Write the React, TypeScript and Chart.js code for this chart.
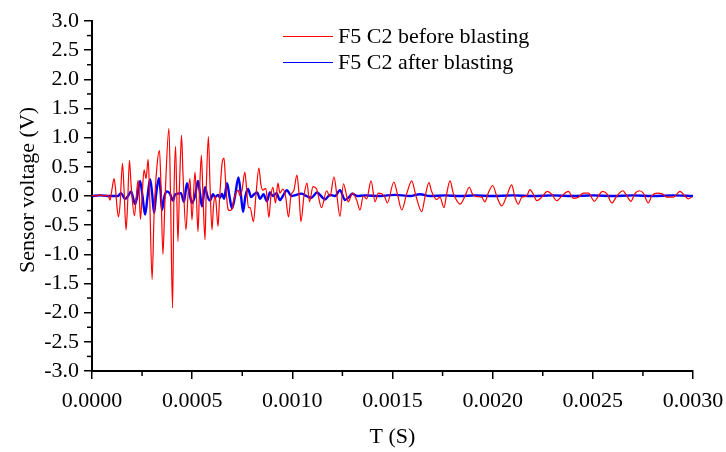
import React, { useEffect, useRef } from "react";
import { Chart, registerables } from "chart.js";

Chart.register(...registerables);

// [time in microseconds, sensor voltage in V]
const beforeBlasting: [number, number][] = [
  [0, 0.01], [20, 0.0], [40, 0.02], [60, 0.0], [80, 0.01], [90, -0.07], [100, 0.12], [110, 0.3],
  [117, 0.14], [125, -0.2], [132, -0.36], [140, -0.15], [152, 0.56], [160, 0.1], [170, -0.58],
  [177, -0.2], [187, 0.61], [195, 0.2], [212, -0.34], [220, -0.05], [230, 0.27], [235, 0.1],
  [242, -0.4], [250, 0.0], [260, 0.45], [270, 0.3], [280, 0.63], [287, 0.1], [300, -1.43],
  [310, -0.3], [324, 0.5], [337, 0.78], [344, 0.2], [354, -1.0], [364, -0.1], [384, 1.16],
  [392, 0.0], [402, -1.92], [409, 0.0], [417, 0.85], [422, 0.2], [429, -0.78], [437, 0.2],
  [447, 1.04], [454, 0.4], [469, -0.58], [479, 0.0], [489, 0.3], [499, -0.41], [514, 0.41],
  [521, 0.0], [529, -0.61], [536, 0.0], [546, 0.7], [554, 0.0], [564, -0.75], [571, 0.2],
  [581, 1.02], [589, 0.2], [599, -0.58], [606, -0.2], [614, 0.0], [619, -0.1], [629, -0.52],
  [636, -0.1], [649, 0.55], [659, 0.65], [666, 0.3], [674, -0.1], [681, -0.24], [689, -0.25],
  [699, -0.22], [709, -0.05], [719, 0.05], [729, 0.1], [739, 0.0], [749, 0.1], [763, 0.41],
  [771, 0.15], [781, -0.2], [789, -0.2], [806, -0.44], [818, 0.0], [833, 0.48], [843, 0.2],
  [853, 0.1], [868, 0.13], [883, -0.37], [893, 0.0], [903, 0.15], [916, -0.12], [928, 0.22],
  [938, 0.05], [953, 0.12], [966, 0.0], [981, -0.36], [993, 0.0], [1008, 0.1], [1023, 0.36],
  [1033, 0.05], [1043, -0.44], [1058, 0.0], [1073, 0.22], [1086, -0.1], [1103, 0.16],
  [1121, 0.12], [1146, -0.2], [1171, 0.09], [1188, -0.01], [1208, 0.33], [1221, 0.05],
  [1238, -0.35], [1255, 0.21], [1271, 0.0], [1279, -0.1], [1301, 0.05], [1321, -0.07],
  [1338, -0.24], [1354, 0.0], [1371, -0.05], [1393, 0.26], [1413, -0.1], [1429, 0.05],
  [1446, 0.04], [1463, -0.03], [1474, -0.12], [1507, 0.24], [1524, 0.04], [1546, -0.24],
  [1571, 0.04], [1596, 0.26], [1617, 0.0], [1646, -0.27], [1662, -0.02], [1682, 0.23],
  [1695, 0.08], [1720, -0.06], [1737, -0.02], [1757, -0.2], [1770, 0.03], [1787, 0.26],
  [1804, 0.04], [1821, -0.08], [1837, -0.14], [1862, 0.0], [1883, 0.15], [1900, 0.03],
  [1920, -0.01], [1945, -0.02], [1961, -0.1], [1978, 0.05], [2000, 0.18], [2020, 0.0],
  [2045, -0.17], [2070, 0.0], [2095, 0.19], [2111, -0.02], [2128, -0.14], [2145, -0.02],
  [2170, 0.0], [2186, 0.11], [2203, 0.03], [2220, -0.08], [2245, -0.02], [2273, 0.08],
  [2295, 0.03], [2320, -0.08], [2345, 0.0], [2378, 0.08], [2403, -0.04], [2428, -0.02],
  [2453, 0.05], [2478, 0.05], [2508, -0.09], [2528, 0.0], [2548, 0.08], [2570, 0.04],
  [2595, -0.12], [2620, 0.0], [2650, 0.09], [2670, 0.0], [2690, -0.09], [2710, 0.04],
  [2732, 0.09], [2752, 0.05], [2777, -0.12], [2794, 0.0], [2819, 0.05], [2844, 0.04],
  [2869, -0.02], [2902, -0.02], [2935, 0.08], [2960, 0.0], [2976, -0.05], [2993, -0.02],
];

const afterBlasting: [number, number][] = [
  [0, 0], [40, 0.01], [90, 0], [130, 0], [145, 0.05], [165, -0.05], [180, 0], [195, 0.08],
  [215, -0.14], [225, -0.02], [240, 0.26], [252, 0], [265, -0.32], [277, -0.02], [290, 0.29],
  [300, 0.05], [310, -0.29], [319, 0], [334, 0.31], [342, 0.1], [349, -0.24], [362, 0],
  [374, 0.08], [389, 0.04], [404, -0.08], [414, 0.02], [429, 0.04], [444, 0.05], [459, -0.1],
  [474, 0.22], [489, 0], [499, -0.12], [514, 0], [529, 0.26], [539, 0.05], [549, -0.18],
  [564, 0.15], [576, 0], [589, -0.08], [604, 0.03], [614, -0.02], [629, 0.02], [639, -0.03],
  [649, 0.04], [659, -0.05], [674, 0.22], [686, 0], [699, -0.21], [714, 0], [731, 0.32],
  [744, 0], [754, -0.27], [766, 0], [779, 0.12], [794, -0.02], [809, 0.03], [824, 0.06],
  [839, -0.05], [856, 0.03], [873, -0.09], [888, 0.06], [903, 0], [921, 0.05], [938, -0.07],
  [953, 0], [973, 0.1], [995, 0], [1020, 0.02], [1045, 0.04], [1070, 0], [1095, -0.03],
  [1123, 0.06], [1143, 0], [1163, -0.06], [1188, 0.02], [1213, 0], [1238, 0.1], [1263, -0.07],
  [1288, 0], [1298, 0.04], [1323, 0], [1362, 0.01], [1437, 0], [1512, 0.02], [1587, 0],
  [1637, 0.03], [1687, 0], [1762, 0.01], [1837, 0], [1912, 0.01], [2000, 0], [2100, 0.01],
  [2200, 0], [2300, 0.01], [2400, 0], [2500, 0.01], [2600, 0], [2700, 0.01], [2800, 0],
  [2900, 0.01], [3000, 0],
];

const seriesLabels = ["F5 C2 before blasting", "F5 C2 after blasting"];
const seriesColors = ["#ff0000", "#0000ff"];
const xTickValues = [0, 0.0005, 0.001, 0.0015, 0.002, 0.0025, 0.003];
const yTickValues = [-3, -2.5, -2, -1.5, -1, -0.5, 0, 0.5, 1, 1.5, 2, 2.5, 3];
const xTitle = "T (S)";
const yTitle = "Sensor voltage (V)";

const FONT = "'Liberation Serif', 'Times New Roman', serif";
const W = 726;
const H = 452;

const decorPlugin = {
  id: "decor",
  afterDraw(chart: any) {
    const ctx: CanvasRenderingContext2D = chart.ctx;
    const xs = chart.scales.x;
    const ys = chart.scales.y;
    const area = chart.chartArea;
    ctx.save();
    ctx.strokeStyle = "#000";
    ctx.lineWidth = 1.5;
    // minor ticks
    for (let i = 0; i < xTickValues.length - 1; i++) {
      const v = (xTickValues[i] + xTickValues[i + 1]) / 2;
      const px = xs.getPixelForValue(v);
      ctx.beginPath();
      ctx.moveTo(px, area.bottom);
      ctx.lineTo(px, area.bottom + 5);
      ctx.stroke();
    }
    for (let i = 0; i < yTickValues.length - 1; i++) {
      const v = (yTickValues[i] + yTickValues[i + 1]) / 2;
      const py = ys.getPixelForValue(v);
      ctx.beginPath();
      ctx.moveTo(area.left, py);
      ctx.lineTo(area.left - 5, py);
      ctx.stroke();
    }
    // legend
    ctx.font = `22px ${FONT}`;
    ctx.textBaseline = "middle";
    ctx.textAlign = "left";
    ctx.fillStyle = "#000";
    chart.data.datasets.forEach((ds: any, i: number) => {
      const y = 36 + i * 26;
      ctx.strokeStyle = ds.borderColor;
      ctx.lineWidth = 1;
      ctx.beginPath();
      ctx.moveTo(283, y + 0.5);
      ctx.lineTo(333, y + 0.5);
      ctx.stroke();
      ctx.fillText(ds.label, 338, y + 1);
    });
    // axis titles
    ctx.textAlign = "center";
    ctx.fillText(xTitle, (area.left + area.right) / 2, 437);
    ctx.translate(28, 190);
    ctx.rotate(-Math.PI / 2);
    ctx.fillText(yTitle, 0, 0);
    ctx.restore();
  },
};

export default function App() {
  const canvasRef = useRef<HTMLCanvasElement | null>(null);

  useEffect(() => {
    document.body.style.margin = "0";
    const canvas = canvasRef.current;
    if (!canvas) return;
    const toPoints = (arr: [number, number][]) => arr.map(([t, v]) => ({ x: t * 1e-6, y: v }));
    const chart = new Chart(canvas, {
      type: "line",
      data: {
        datasets: [
          {
            label: seriesLabels[0],
            data: toPoints(beforeBlasting),
            borderColor: seriesColors[0],
            backgroundColor: seriesColors[0],
            borderWidth: 1.2,
            pointRadius: 0,
            cubicInterpolationMode: "monotone",
          },
          {
            label: seriesLabels[1],
            data: toPoints(afterBlasting),
            borderColor: seriesColors[1],
            backgroundColor: seriesColors[1],
            borderWidth: 2.4,
            pointRadius: 0,
            cubicInterpolationMode: "monotone",
          },
        ],
      },
      options: {
        animation: false,
        responsive: false,
        devicePixelRatio: 1,
        layout: { padding: { left: 0, top: 21, right: 33, bottom: 0 } },
        plugins: { legend: { display: false }, tooltip: { enabled: false } },
        events: [],
        scales: {
          x: {
            type: "linear",
            min: 0,
            max: 0.003,
            afterFit: (s: any) => { s.height = H - 371; s.paddingLeft = 0; s.paddingRight = 0; },
            afterBuildTicks: (s: any) => { s.ticks = xTickValues.map((v) => ({ value: v })); },
            ticks: {
              callback: (v: any) => Number(v).toFixed(4),
              font: { family: FONT, size: 22 },
              color: "#000",
              padding: 9,
              maxRotation: 0,
              autoSkip: false,
            },
            grid: { display: true, drawOnChartArea: false, drawTicks: true, tickLength: 8, color: "#000", lineWidth: 1.5 },
            border: { display: true, color: "#000", width: 2 },
          },
          y: {
            type: "linear",
            min: -3,
            max: 3,
            afterFit: (s: any) => { s.width = 92; s.paddingTop = 0; s.paddingBottom = 0; },
            afterBuildTicks: (s: any) => { s.ticks = yTickValues.map((v) => ({ value: v })); },
            ticks: {
              callback: (v: any) => Number(v).toFixed(1),
              font: { family: FONT, size: 22 },
              color: "#000",
              padding: 5,
              autoSkip: false,
            },
            grid: { display: true, drawOnChartArea: false, drawTicks: true, tickLength: 8, color: "#000", lineWidth: 1.5 },
            border: { display: true, color: "#000", width: 2 },
          },
        },
      },
      plugins: [decorPlugin],
    });
    return () => chart.destroy();
  }, []);

  return (
    <div style={{ width: W, height: H, background: "#fff" }}>
      <canvas ref={canvasRef} width={W} height={H} style={{ display: "block" }} />
    </div>
  );
}
